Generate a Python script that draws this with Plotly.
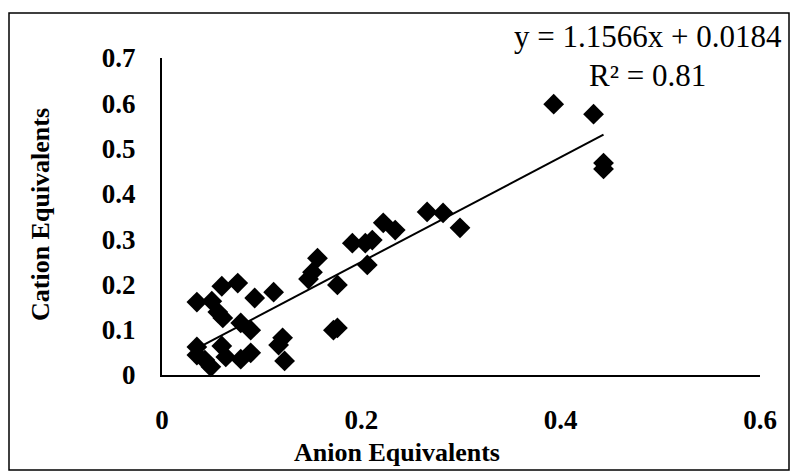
import plotly.graph_objects as go

# ---- data ----
anion = [0.035, 0.050, 0.056, 0.061, 0.060, 0.076, 0.093, 0.112, 0.079, 0.089,
         0.035, 0.035, 0.043, 0.049, 0.060, 0.064, 0.079, 0.089, 0.121, 0.117,
         0.123, 0.176, 0.172, 0.176, 0.147, 0.151, 0.156, 0.191, 0.204, 0.211,
         0.206, 0.222, 0.234, 0.266, 0.282, 0.299, 0.393, 0.433, 0.443, 0.443]
cation = [0.161, 0.163, 0.139, 0.126, 0.196, 0.203, 0.170, 0.183, 0.115, 0.099,
          0.062, 0.044, 0.033, 0.018, 0.064, 0.040, 0.035, 0.049, 0.082, 0.066,
          0.031, 0.104, 0.099, 0.199, 0.212, 0.227, 0.258, 0.291, 0.291, 0.298,
          0.243, 0.336, 0.320, 0.360, 0.358, 0.325, 0.598, 0.576, 0.468, 0.455]

slope = 1.1566
intercept = 0.0184
r_squared = 0.81

x_tick_vals = [0, 0.2, 0.4, 0.6]
x_tick_text = ["0", "0.2", "0.4", "0.6"]
y_tick_vals = [0, 0.1, 0.2, 0.3, 0.4, 0.5, 0.6, 0.7]
y_tick_text = ["0", "0.1", "0.2", "0.3", "0.4", "0.5", "0.6", "0.7"]

x_title = "Anion Equivalents"
y_title = "Cation Equivalents"

# ---- layout geometry ----
W, H = 792, 475
L, R, T, B = 162, 32, 58, 100


def px(xp):
    return (xp - L) / (W - L - R)


def py(yp):
    return (H - B - yp) / (H - T - B)


FONT = "Liberation Serif, Times New Roman, serif"

trend_x = [min(anion), max(anion)]
trend_y = [slope * v + intercept for v in trend_x]

fig = go.Figure()
fig.add_trace(go.Scatter(
    x=anion, y=cation, mode="markers",
    marker=dict(symbol="diamond", size=16, color="black", line=dict(width=0)),
    cliponaxis=False, showlegend=False,
))
fig.add_trace(go.Scatter(
    x=trend_x, y=trend_y, mode="lines",
    line=dict(color="black", width=2), showlegend=False,
))

fig.update_layout(
    width=W, height=H,
    margin=dict(l=L, r=R, t=T, b=B),
    paper_bgcolor="white", plot_bgcolor="white",
    font=dict(family=FONT, color="black"),
    xaxis=dict(
        range=[0, 0.6], tickvals=x_tick_vals, ticktext=x_tick_text,
        showline=True, linecolor="black", linewidth=2,
        showgrid=False, zeroline=False, ticks="",
        tickfont=dict(family=FONT, size=27, color="black", weight="bold"),
        ticklabelstandoff=20,
    ),
    yaxis=dict(
        range=[0, 0.7], tickvals=y_tick_vals, ticktext=y_tick_text,
        showline=True, linecolor="black", linewidth=2,
        showgrid=False, zeroline=False, ticks="",
        tickfont=dict(family=FONT, size=27, color="black", weight="bold"),
        ticklabelstandoff=19,
    ),
    shapes=[dict(
        type="rect", xref="paper", yref="paper",
        x0=px(9), x1=px(789), y0=py(470), y1=py(13),
        line=dict(color="black", width=1.5),
    )],
    annotations=[
        dict(text=x_title, xref="paper", yref="paper", x=px(397), y=py(452),
             showarrow=False, xanchor="center", yanchor="middle",
             font=dict(family=FONT, size=26, color="black", weight="bold")),
        dict(text=y_title, xref="paper", yref="paper", x=px(40), y=py(215),
             showarrow=False, xanchor="center", yanchor="middle", textangle=-90,
             font=dict(family=FONT, size=26, color="black", weight="bold")),
        dict(text=f"y = {slope}x + {intercept}", xref="paper", yref="paper",
             x=px(648), y=py(37), showarrow=False, xanchor="center", yanchor="middle",
             font=dict(family=FONT, size=31, color="black")),
        dict(text=f"R² = {r_squared}", xref="paper", yref="paper",
             x=px(647), y=py(75), showarrow=False, xanchor="center", yanchor="middle",
             font=dict(family=FONT, size=31, color="black")),
    ],
)

fig.write_html("out.html")
